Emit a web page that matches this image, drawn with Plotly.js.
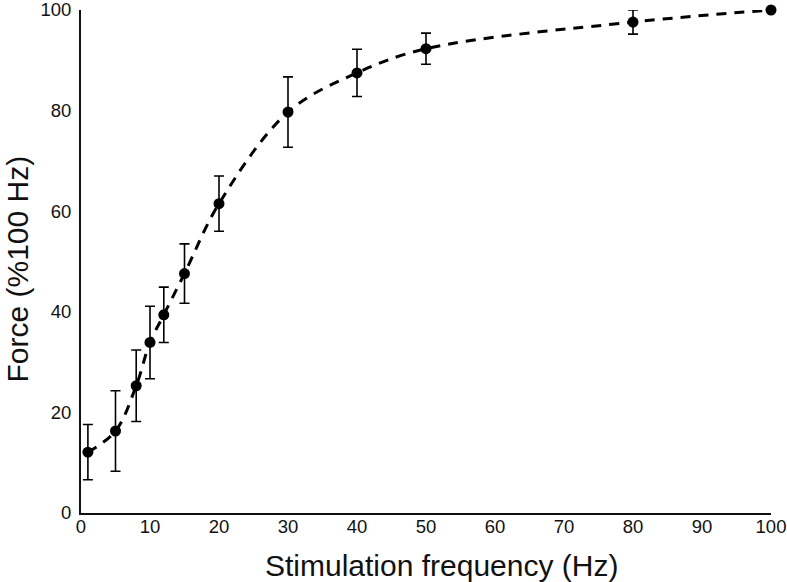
<!DOCTYPE html>
<html>
<head>
<meta charset="utf-8">
<script src="https://cdn.plot.ly/plotly-3.0.1.min.js"></script>
<style>
  html, body { margin: 0; padding: 0; background: #fff; }
  #chart { width: 787px; height: 582px; }
</style>
</head>
<body>
<div id="chart"></div>
<script>
// Force-frequency data (mean +/- error)
const freq = [1, 5, 8, 10, 12, 15, 20, 30, 40, 50, 80, 100];
const force = [12.1, 16.3, 25.3, 33.9, 39.4, 47.6, 61.5, 79.7, 87.5, 92.3, 97.6, 100];
const forceErr = [5.5, 8.0, 7.1, 7.2, 5.5, 5.9, 5.5, 7.0, 4.7, 3.1, 2.4, 0];
const xTicks = [0, 10, 20, 30, 40, 50, 60, 70, 80, 90, 100];
const yTicks = [0, 20, 40, 60, 80, 100];
const xTitle = "Stimulation frequency (Hz)";
const yTitle = "Force (%100 Hz)";

const fontFam = "Liberation Sans, Arial, sans-serif";
const titleFont = { family: fontFam, size: 30, color: "#111" };

// dashed smooth curve through the means
const curve = {
  type: "scatter",
  mode: "lines",
  x: freq,
  y: force,
  line: { color: "#000", width: 3, dash: "10px,8px", shape: "spline", smoothing: 1 },
  cliponaxis: false,
  hoverinfo: "skip"
};

// points with error bars
const points = {
  type: "scatter",
  mode: "markers",
  x: freq,
  y: force,
  marker: { color: "#000", size: 11 },
  error_y: { type: "data", array: forceErr, visible: true, color: "#000", thickness: 1.6, width: 5 },
  cliponaxis: false
};

const axisBase = {
  showgrid: false,
  zeroline: false,
  showline: true,
  linecolor: "#111",
  linewidth: 2,
  ticks: "",
  tickfont: { family: fontFam, size: 18.5, color: "#111" },
  ticklabeloverflow: "allow"
};

const layout = {
  width: 787,
  height: 582,
  margin: { l: 81, r: 16, t: 10, b: 69 },
  paper_bgcolor: "#fff",
  plot_bgcolor: "#fff",
  showlegend: false,
  xaxis: Object.assign({}, axisBase, {
    range: [0, 100],
    tickvals: xTicks,
    ticktext: xTicks.map(String),
    ticklabelstandoff: -4
  }),
  yaxis: Object.assign({}, axisBase, {
    range: [0, 100],
    tickvals: yTicks,
    ticktext: yTicks.map(String),
    ticklabelstandoff: 4
  }),
  // axis titles as annotations so they sit where the original has them
  annotations: [
    {
      text: xTitle, font: titleFont, showarrow: false,
      xref: "paper", yref: "paper", x: 0.5, y: 0,
      xanchor: "center", yanchor: "middle",
      xshift: 15, yshift: -52
    },
    {
      text: yTitle, font: titleFont, showarrow: false, textangle: -90,
      xref: "paper", yref: "paper", x: 0, y: 0.5,
      xanchor: "center", yanchor: "middle",
      xshift: -64, yshift: -8
    }
  ]
};

Plotly.newPlot("chart", [curve, points], layout, { staticPlot: true });
</script>
</body>
</html>
